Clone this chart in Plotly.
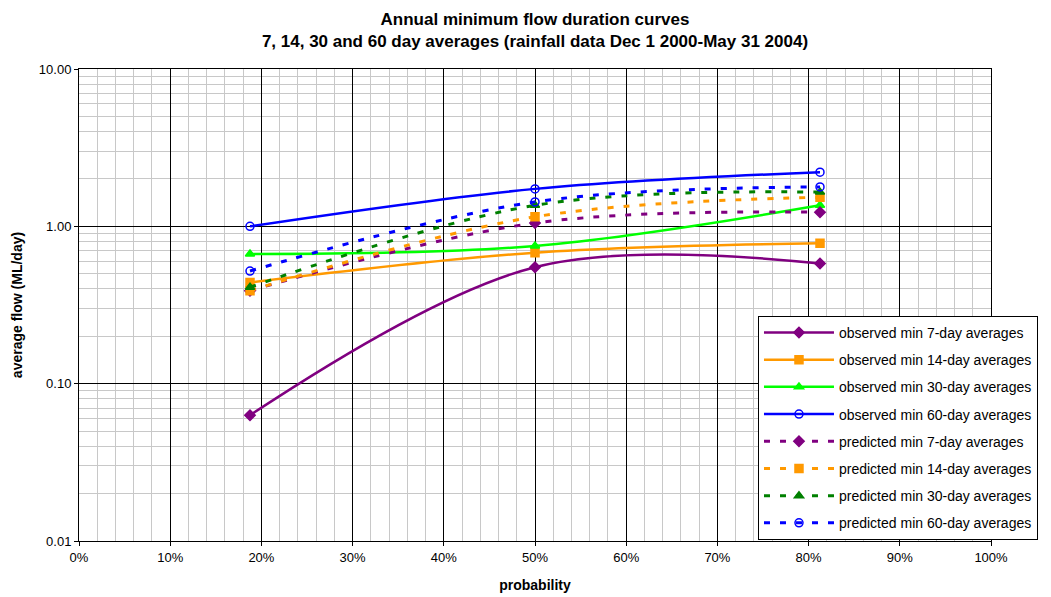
import plotly.graph_objects as go

probability = [0.1875, 0.50, 0.8125]

obs_7 = [0.063, 0.55, 0.58]
obs_14 = [0.44, 0.68, 0.78]
obs_30 = [0.667, 0.75, 1.36]
obs_60 = [1.00, 1.73, 2.21]

pred_7 = [0.39, 1.05, 1.23]
pred_14 = [0.39, 1.15, 1.53]
pred_30 = [0.41, 1.36, 1.65]
pred_60 = [0.52, 1.43, 1.78]

names = [
    "observed min 7-day averages",
    "observed min 14-day averages",
    "observed min 30-day averages",
    "observed min 60-day averages",
    "predicted min 7-day averages",
    "predicted min 14-day averages",
    "predicted min 30-day averages",
    "predicted min 60-day averages",
]
series = [obs_7, obs_14, obs_30, obs_60, pred_7, pred_14, pred_30, pred_60]
colors = ["#800080", "#FF9900", "#00FF00", "#0000FF",
          "#800080", "#FF9900", "#008000", "#0000FF"]
symbols = ["diamond", "square", "triangle-up", "circle-open",
           "diamond", "square", "triangle-up", "circle-open"]

FONT = "Arial, Liberation Sans, sans-serif"

fig = go.Figure()
for i, (nm, ys, c, s) in enumerate(zip(names, series, colors, symbols)):
    dashed = i >= 4
    fig.add_trace(go.Scatter(
        x=probability, y=ys, name=nm, mode="lines+markers",
        line=dict(color=c, width=3 if dashed else 2.5, shape="spline",
                  dash="6px,10px" if dashed else "solid"),
        marker=dict(symbol=s, size=8, color=c,
                    line=dict(color=c, width=1.5)),
        legendgroup=f"g{i}",
    ))

fig.update_layout(
    width=1051, height=597,
    margin=dict(l=79, r=60, t=69, b=56, autoexpand=False),
    paper_bgcolor="white", plot_bgcolor="white",
    font=dict(family=FONT, size=13, color="black"),
    title=dict(
        text="<b>Annual minimum flow duration curves<br>7, 14, 30 and 60 day averages (rainfall data Dec 1 2000-May 31 2004)</b>",
        x=(79 + 991) / 2 / 1051, xanchor="center",
        yref="container", y=1 - 25 / 597, yanchor="middle",
        font=dict(size=17, family=FONT),
    ),
    legend=dict(
        x=0.7445, y=0.477, xanchor="left", yanchor="top",
        bgcolor="white", bordercolor="black", borderwidth=1,
        font=dict(size=14, family=FONT), tracegroupgap=6,
        itemwidth=70,
    ),
    showlegend=True,
)

fig.update_xaxes(
    range=[0, 1], tickvals=[i / 10 for i in range(11)], tickformat=".0%",
    showgrid=True, gridcolor="black", gridwidth=1,
    minor=dict(dtick=0.02, showgrid=True, gridcolor="#c8c8c8", gridwidth=1),
    showline=True, linecolor="black", linewidth=1, mirror=True,
    ticks="outside", ticklen=4, tickcolor="black",
    zeroline=False, automargin=False,
    title=dict(text="<b>probability</b>", font=dict(size=14, family=FONT), standoff=16),
    tickfont=dict(size=13, family=FONT),
)
fig.update_yaxes(
    type="log", range=[-2, 1], tickvals=[0.01, 0.1, 1, 10], tickformat=".2f",
    showgrid=True, gridcolor="black", gridwidth=1,
    minor=dict(showgrid=True, gridcolor="#c8c8c8", gridwidth=1, dtick="D1"),
    showline=True, linecolor="black", linewidth=1, mirror=True,
    ticks="outside", ticklen=4, tickcolor="black", automargin=False,
    title=dict(text="<b>average flow (ML/day)</b>", font=dict(size=14, family=FONT), standoff=12),
    tickfont=dict(size=13, family=FONT),
)

fig.write_html("out.html")
